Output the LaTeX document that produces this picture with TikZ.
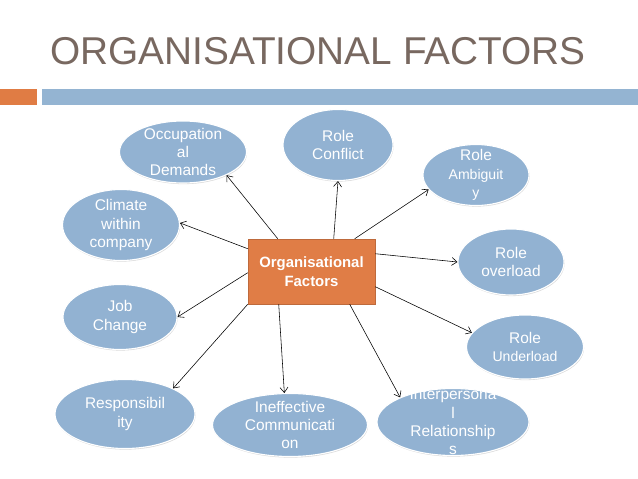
\documentclass[tikz,border=0pt]{standalone}
\usepackage{fontspec}
\setmainfont{Liberation Sans}
\usepackage{xcolor}
\usepackage{tikz}
\usetikzlibrary{shapes.geometric, arrows.meta, shadows}

\definecolor{titlegray}{RGB}{120,104,96}
\definecolor{barorange}{RGB}{224,124,68}
\definecolor{barblue}{RGB}{148,180,210}
\definecolor{ellblue}{RGB}{146,178,210}
\definecolor{boxorange}{RGB}{224,125,70}

\newcommand\minorfont{\fontsize{10}{13}\selectfont}

\begin{document}
\begin{tikzpicture}[
    factor/.style={ellipse, fill=ellblue, draw=white, thick, inner sep=0pt,
        drop shadow={shadow xshift=0.4pt, shadow yshift=-0.8pt, opacity=0.3}},
    lbl/.style={text=white, align=center, inner sep=0pt, font=\fontsize{11}{13}\selectfont},
    centre/.style={draw=boxorange!85!black, fill=boxorange, text=white, align=center,
        minimum width=3.175cm, minimum height=1.625cm, font=\fontsize{10.6}{13.5}\selectfont\bfseries},
    arr/.style={-{Straight Barb[length=1.3mm, width=2mm]}, thin}
]
\useasboundingbox (0,0) rectangle (15.95,-11.975);

% title and bar
\node[anchor=west, text=titlegray, inner sep=0pt, font=\fontsize{27.6}{33}\selectfont] (title) at (1.25,-1.275) {ORGANISATIONAL FACTORS};
\fill[barorange] (0,-2.225) rectangle (0.925,-2.625);
\fill[barblue] (1.05,-2.225) rectangle (15.95,-2.625);

% centre
\node[centre] (org) at (7.7875,-6.7875) {Organisational\\Factors};

% factors
\node[factor, minimum width=3.175cm, minimum height=1.55cm, label={[lbl]center:Occupation\\al\\Demands}] (occ) at (4.575,-3.8) {};
\node[factor, minimum width=2.75cm, minimum height=1.775cm, label={[lbl]center:Role\\Conflict}] (conflict) at (8.45,-3.625) {};
\node[factor, minimum width=2.65cm, minimum height=1.525cm, label={[lbl]center:Role\\{\minorfont Ambiguit}\\{\minorfont y}}] (ambig) at (11.9,-4.375) {};
\node[factor, minimum width=2.65cm, minimum height=1.65cm, label={[lbl]center:Role\\overload}] (over) at (12.775,-6.55) {};
\node[factor, minimum width=2.925cm, minimum height=1.6cm, label={[lbl]center:Role\\{\minorfont Underload}}] (under) at (13.125,-8.675) {};
\node[factor, minimum width=2.925cm, minimum height=1.775cm, label={[lbl]center:Climate\\within\\company}] (climate) at (3.025,-5.625) {};
\node[factor, minimum width=2.85cm, minimum height=1.625cm, label={[lbl]center:Job\\Change}] (job) at (3.0,-7.925) {};
\node[factor, minimum width=3.5cm, minimum height=1.725cm, label={[lbl]center:Responsibil\\ity}] (resp) at (3.125,-10.35) {};
\node[factor, minimum width=3.875cm, minimum height=1.575cm, label={[lbl]center:Ineffective\\Communicati\\on}] (comm) at (7.25,-10.625) {};
\node[factor, minimum width=3.8cm, minimum height=1.675cm, label={[lbl]center:Interpersona\\l\\Relationship\\s}] (inter) at (11.325,-10.55) {};

% arrows
\draw[arr] ([xshift=0.75cm]org.north west) -- (occ.-28);
\draw[arr] ([xshift=2.15cm]org.north west) -- (conflict.south);
\draw[arr] ([xshift=2.675cm]org.north west) -- (ambig.-163);
\draw[arr] ([yshift=-0.25cm]org.north west) -- (climate.2);
\draw[arr] ([yshift=-0.85cm]org.north west) -- (job.east);
\draw[arr] (org.south west) -- (resp.28);
\draw[arr] ([xshift=0.775cm]org.south west) -- (comm.100);
\draw[arr] ([xshift=2.55cm]org.south west) -- (inter.155);
\draw[arr] ([yshift=-0.375cm]org.north east) -- (over.west);
\draw[arr] ([yshift=-1.2cm]org.north east) -- (under.165);
\end{tikzpicture}
\end{document}
